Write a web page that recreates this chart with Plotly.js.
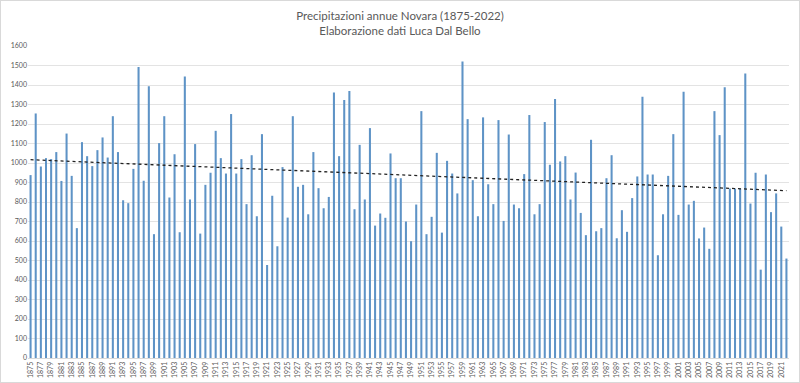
<!DOCTYPE html>
<html>
<head>
<meta charset="utf-8">
<script src="https://cdn.plot.ly/plotly-3.0.1.min.js"></script>
<style>
html,body{margin:0;padding:0;background:#fff;}
#chart{width:800px;height:383px;box-sizing:border-box;border:1px solid #d9d9d9;}
</style>
</head>
<body>
<div id="chart"></div>
<script>
const startYear = 1875;
const rainfall = [
  938,1254,982,1025,1020,1056,908,1151,934,666,
  1107,1035,984,1066,1131,1028,1240,1056,809,794,
  970,1492,909,1394,635,1102,1240,823,1045,645,
  1444,813,1097,638,888,950,1165,1025,946,1251,
  946,1020,789,1040,727,1148,477,832,573,979,
  720,1240,878,888,737,1056,871,768,826,1362,
  1035,1323,1369,763,1093,813,1179,679,741,719,
  1049,922,922,700,599,787,1266,635,724,1052,
  643,1011,946,844,1521,1225,912,727,1234,891,
  789,1220,703,1146,787,768,943,1246,737,789,
  1210,991,1328,1008,1035,813,951,744,630,1119,
  650,666,922,1040,614,758,647,820,931,1340,
  941,941,527,737,934,1148,734,1365,787,806,
  613,669,560,1266,1143,1388,869,869,869,1459,
  792,950,453,941,748,844,674,510
];
const years = rainfall.map((_, i) => String(startYear + i));
const tickYears = years.filter((_, i) => i % 2 === 0);

// linear trend (least squares) as in the original spreadsheet trendline
const n = rainfall.length;
const xs = rainfall.map((_, i) => i + 1);
const mx = xs.reduce((a, b) => a + b, 0) / n;
const my = rainfall.reduce((a, b) => a + b, 0) / n;
let sxy = 0, sxx = 0;
for (let i = 0; i < n; i++) { sxy += (xs[i] - mx) * (rainfall[i] - my); sxx += (xs[i] - mx) ** 2; }
const slope = sxy / sxx, icpt = my - slope * mx;
const trend = xs.map(x => icpt + slope * x);

const font = "Lato, 'Open Sans', sans-serif";
const grey = '#595959';

Plotly.newPlot('chart', [
  {
    type: 'bar', x: years, y: rainfall,
    marker: {color: '#5e93c6', line: {width: 0}},
    hoverinfo: 'x+y'
  },
  {
    type: 'scatter', mode: 'lines', x: years, y: trend,
    line: {color: '#222222', width: 1.3, dash: 'dot'},
    hoverinfo: 'skip'
  }
], {
  width: 798, height: 381,
  margin: {l: 27, r: 10, t: 45, b: 24},
  paper_bgcolor: '#ffffff', plot_bgcolor: '#ffffff',
  showlegend: false,
  bargap: 0.6,
  font: {family: font, color: grey},
  title: {
    text: 'Precipitazioni annue Novara (1875-2022)<br>Elaborazione dati Luca Dal Bello',
    font: {family: font, size: 11.5, color: grey},
    x: 0.5, xanchor: 'center', y: 0.95, yanchor: 'top'
  },
  xaxis: {
    type: 'category',
    tickmode: 'array', tickvals: tickYears, ticktext: tickYears,
    tickangle: -90,
    tickfont: {family: font, size: 7, color: grey},
    showgrid: false, zeroline: false,
    showline: true, linecolor: '#d9d9d9', linewidth: 1,
    ticks: '', automargin: false
  },
  yaxis: {
    range: [0, 1600], dtick: 100, tick0: 0,
    tickfont: {family: font, size: 7, color: grey},
    showgrid: true, gridcolor: '#e3e3e3', gridwidth: 1,
    zeroline: false, showline: false, ticks: '',
    automargin: false
  }
}, {displayModeBar: false, staticPlot: true});
</script>
</body>
</html>
